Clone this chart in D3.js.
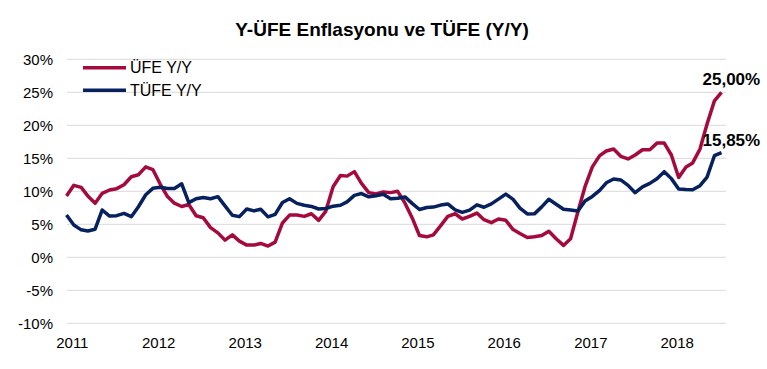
<!DOCTYPE html>
<html>
<head>
<meta charset="utf-8">
<script src="https://cdn.jsdelivr.net/npm/d3@7"></script>
<style>
  body { margin: 0; background: #fff; }
  svg { display: block; font-family: "Liberation Sans", Arial, sans-serif; }
</style>
</head>
<body>
<div class="chart"></div>
<script>
var WIDTH = 767;
var HEIGHT = 369;

// monthly series, Dec 2010 .. Jul 2018
var firstMonth = new Date(2010, 11, 1);
var ufe = [
  9.3,
  10.9, 10.6, 9.3, 8.2, 9.7, 10.2, 10.4, 11.0, 12.2, 12.5, 13.7, 13.3,
  11.1, 9.2, 8.2, 7.7, 8.0, 6.3, 6.0, 4.5, 3.7, 2.6, 3.4, 2.45,
  1.85, 1.85, 2.1, 1.7, 2.3, 5.2, 6.4, 6.4, 6.2, 6.6, 5.6, 6.97,
  10.7, 12.4, 12.3, 12.98, 11.2, 9.8, 9.6, 9.9, 9.8, 10.0, 8.2, 6.0,
  3.3, 3.1, 3.4, 4.8, 6.2, 6.6, 5.8, 6.2, 6.7, 5.7, 5.25, 5.8,
  5.6, 4.2, 3.6, 3.0, 3.1, 3.3, 3.95, 2.8, 1.8, 2.8, 6.9, 10.7,
  13.7, 15.4, 16.1, 16.4, 15.3, 14.9, 15.5, 16.3, 16.3, 17.3, 17.3, 15.5,
  12.1, 13.7, 14.3, 16.4, 20.2, 23.7, 25.0
];
var tufe = [
  6.40,
  4.90, 4.16, 3.99, 4.26, 7.17, 6.24, 6.31, 6.65, 6.15, 7.66, 9.48, 10.45,
  10.61, 10.43, 10.43, 11.14, 8.28, 8.87, 9.07, 8.88, 9.19, 7.80, 6.37, 6.16,
  7.31, 7.03, 7.29, 6.13, 6.51, 8.30, 8.88, 8.17, 7.88, 7.71, 7.32, 7.40,
  7.75, 7.89, 8.39, 9.38, 9.66, 9.16, 9.32, 9.54, 8.86, 8.96, 9.15, 8.17,
  7.24, 7.55, 7.61, 7.91, 8.09, 7.20, 6.81, 7.14, 7.95, 7.58, 8.10, 8.81,
  9.58, 8.78, 7.46, 6.57, 6.58, 7.64, 8.79, 8.05, 7.28, 7.16, 7.00, 8.53,
  9.22, 10.13, 11.29, 11.87, 11.72, 10.90, 9.79, 10.68, 11.20, 11.90, 12.98, 11.92,
  10.35, 10.26, 10.23, 10.85, 12.15, 15.39, 15.85
];
var yTicks = [-10, -5, 0, 5, 10, 15, 20, 25, 30];
var yearTicks = [2011, 2012, 2013, 2014, 2015, 2016, 2017, 2018];
var seriesNames = ['ÜFE Y/Y', 'TÜFE Y/Y'];
var endLabels = ['25,00%', '15,85%'];
var colors = ['#A50A3C', '#06215E'];

var months = ufe.map(function(d, i) {
  return d3.timeMonth.offset(firstMonth, i);
});
var series = [ufe, tufe].map(function(vals, k) {
  return {
    name: seriesNames[k],
    color: colors[k],
    label: endLabels[k],
    values: vals.map(function(v, i) { return { date: months[i], value: v }; })
  };
});

var svg = d3.select('.chart')
  .append('svg')
  .attr('width', WIDTH)
  .attr('height', HEIGHT);

var x = d3.scaleTime()
  .domain([months[0], months[months.length - 1]])
  .range([66.5, 721.5]);

var y = d3.scaleLinear()
  .domain([-10, 30])
  .range([323.3, 59.3]);

// title
svg.append('text')
  .attr('x', 382)
  .attr('y', 36)
  .attr('text-anchor', 'middle')
  .style('font-size', '19px')
  .style('font-weight', 'bold')
  .text('Y-ÜFE Enflasyonu ve TÜFE (Y/Y)');

// gridlines
svg.append('g')
  .selectAll('line')
  .data(yTicks)
  .enter()
  .append('line')
  .attr('x1', 67)
  .attr('x2', 726)
  .attr('y1', function(d) { return y(d); })
  .attr('y2', function(d) { return y(d); })
  .attr('stroke', '#d9d9d9')
  .attr('stroke-width', 1);

// y axis
var yAxis = d3.axisLeft(y)
  .tickValues(yTicks)
  .tickSize(0)
  .tickPadding(0)
  .tickFormat(function(d) { return d + '%'; });
var gy = svg.append('g')
  .attr('transform', 'translate(53,0)')
  .call(yAxis);
gy.select('.domain').remove();
gy.selectAll('text')
  .attr('fill', '#000')
  .style('font-size', '15px')
  .style('font-family', '"Liberation Sans", Arial, sans-serif');

// x axis
var xAxis = d3.axisBottom(x)
  .tickValues(yearTicks.map(function(yr) { return new Date(yr, 0, 1); }))
  .tickSize(0)
  .tickPadding(0)
  .tickFormat(d3.timeFormat('%Y'));
var gx = svg.append('g')
  .attr('transform', 'translate(-2,337)')
  .call(xAxis);
gx.select('.domain').remove();
gx.selectAll('text')
  .attr('fill', '#000')
  .style('font-size', '15px')
  .style('font-family', '"Liberation Sans", Arial, sans-serif');

// lines
var line = d3.line()
  .x(function(d) { return x(d.date); })
  .y(function(d) { return y(d.value); });

svg.append('g')
  .selectAll('path')
  .data(series)
  .enter()
  .append('path')
  .attr('d', function(d) { return line(d.values); })
  .attr('fill', 'none')
  .attr('stroke', function(d) { return d.color; })
  .attr('stroke-width', 3.5)
  .attr('stroke-linejoin', 'round');

// end labels
svg.append('g')
  .selectAll('text')
  .data(series)
  .enter()
  .append('text')
  .attr('x', function(d) { return x(d.values[d.values.length - 1].date) - 19; })
  .attr('y', function(d) { return y(d.values[d.values.length - 1].value) - 7; })
  .style('font-size', '17px')
  .style('font-weight', 'bold')
  .text(function(d) { return d.label; });

// legend
var legend = svg.append('g')
  .selectAll('g')
  .data(series)
  .enter()
  .append('g')
  .attr('transform', function(d, i) { return 'translate(83,' + (67.7 + i * 22.5) + ')'; });
legend.append('line')
  .attr('x1', 0)
  .attr('x2', 43)
  .attr('stroke', function(d) { return d.color; })
  .attr('stroke-width', 3.5);
legend.append('text')
  .attr('x', 47)
  .attr('dy', '0.35em')
  .style('font-size', '16px')
  .text(function(d) { return d.name; });
</script>
</body>
</html>
